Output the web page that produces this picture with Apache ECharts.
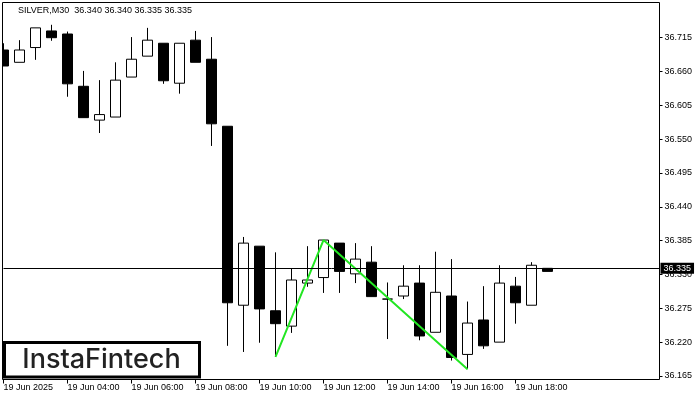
<!DOCTYPE html>
<html>
<head>
<meta charset="utf-8">
<script src="https://cdn.jsdelivr.net/npm/echarts@6/dist/echarts.min.js"></script>
<style>
html,body{margin:0;padding:0;background:#fff;}
#chart{width:700px;height:400px;}
</style>
</head>
<body>
<div id="chart"></div>
<script>
// 30-minute bars, 19 Jun 2025 (last 7 slots are empty space to the right)
var categories = ["02:00","02:30","03:00","03:30","04:00","04:30","05:00","05:30","06:00","06:30",
  "07:00","07:30","08:00","08:30","09:00","09:30","10:00","10:30","11:00","11:30",
  "12:00","12:30","13:00","13:30","14:00","14:30","15:00","15:30","16:00","16:30",
  "17:00","17:30","18:00","18:30","19:00","19:30","20:00","20:30","21:00","21:30",
  "22:00","22:30"];
var opens  = [36.695,36.675,36.699,36.726,36.721,36.636,36.581,36.586,36.651,36.685,
  36.706,36.641,36.711,36.680,36.571,36.280,36.376,36.271,36.246,36.316,
  36.325,36.381,36.331,36.350,36.290,36.295,36.316,36.236,36.295,36.200,
  36.256,36.220,36.311,36.280,36.340];
var highs  = [36.706,36.711,36.731,36.736,36.725,36.661,36.646,36.675,36.716,36.731,
  36.706,36.706,36.726,36.716,36.571,36.391,36.376,36.366,36.340,36.376,
  36.386,36.381,36.381,36.376,36.317,36.345,36.345,36.367,36.355,36.286,
  36.311,36.345,36.326,36.350,36.340];
var lows   = [36.669,36.675,36.679,36.710,36.619,36.585,36.560,36.586,36.651,36.685,
  36.640,36.624,36.675,36.539,36.214,36.204,36.219,36.196,36.235,36.310,
  36.300,36.300,36.316,36.294,36.225,36.290,36.223,36.236,36.190,36.176,
  36.209,36.220,36.250,36.280,36.335];
var closes = [36.669,36.695,36.731,36.715,36.640,36.585,36.590,36.646,36.680,36.711,
  36.645,36.706,36.675,36.575,36.284,36.381,36.274,36.250,36.321,36.321,
  36.386,36.335,36.355,36.294,36.290,36.311,36.230,36.301,36.195,36.251,
  36.214,36.316,36.284,36.345,36.335];
// double-bottom pattern line (low - high - low)
var patternTimes  = ["10:30","12:00","16:30"];
var patternValues = [36.196,36.386,36.176];
var currentPrice = 36.335;
var yTicks = [36.165,36.220,36.275,36.330,36.385,36.440,36.495,36.550,36.605,36.660,36.715];
var symbolName = "SILVER,M30";
var dateLabel = "19 Jun 2025";
var dayPrefix = "19 Jun ";

var candleData = opens.map(function(o, i){ return [o, closes[i], lows[i], highs[i]]; });
var patternData = patternTimes.map(function(t, i){ return [t, patternValues[i]]; });
var last = opens.length - 1;
var titleText = symbolName + "  " + opens[last].toFixed(3) + " " + highs[last].toFixed(3) + " " +
  lows[last].toFixed(3) + " " + closes[last].toFixed(3);

var FONT = "Liberation Sans";
var chart = echarts.init(document.getElementById('chart'), null, {renderer: 'canvas'});
var labelShown = function(idx){ return idx % 4 === 0 && idx < opens.length; };
chart.setOption({
  animation: false,
  backgroundColor: '#fff',
  title: {
    text: titleText, left: 18, top: 6, padding: 0,
    textStyle: {fontSize: 9, fontFamily: FONT, fontWeight: 'normal', color: '#000'}
  },
  grid: {left: 3.5, right: 40.5, top: 2.5, bottom: 20.5, outerBoundsMode: 'none', containLabel: false},
  xAxis: {
    type: 'category', data: categories, boundaryGap: false,
    axisLine: {show: false},
    axisTick: {show: true, interval: function(idx){ return labelShown(idx); }, length: 4, lineStyle: {color: '#000'}},
    axisLabel: {
      interval: function(idx){ return labelShown(idx); },
      formatter: function(v, idx){ return idx === 0 ? dateLabel : dayPrefix + v; },
      align: 'left', margin: 4, fontSize: 9, fontFamily: FONT, color: '#000', hideOverlap: false
    },
    splitLine: {show: false}
  },
  yAxis: {
    type: 'value', position: 'right', min: 36.15923, max: 36.77224, scale: true,
    axisLine: {show: false},
    axisTick: {show: true, customValues: yTicks, length: 3, lineStyle: {color: '#000'}},
    axisLabel: {customValues: yTicks, formatter: function(v){ return v.toFixed(3); },
      margin: 5, fontSize: 9, fontFamily: FONT, color: '#000', hideOverlap: false},
    splitLine: {show: false}
  },
  series: [
    {
      type: 'candlestick', data: candleData, barWidth: 10, clip: false,
      itemStyle: {color: '#fff', color0: '#000', borderColor: '#000', borderColor0: '#000', borderWidth: 1},
      markLine: {
        silent: true, symbol: ['none', 'none'], animation: false,
        lineStyle: {color: '#000', width: 1, type: 'solid'},
        label: {show: true, position: 'end', distance: 1, formatter: currentPrice.toFixed(3),
          backgroundColor: '#000', color: '#fff', padding: [1, 3, 1, 3], fontSize: 9, fontFamily: FONT},
        data: [{yAxis: currentPrice}]
      },
      z: 3
    },
    {
      type: 'line', data: patternData, symbol: 'none', connectNulls: true,
      lineStyle: {color: '#22e622', width: 2}, z: 4
    }
  ],
  graphic: [
    {type: 'rect', shape: {x: 0, y: 0, width: 2, height: 400}, style: {fill: '#fff'}, z: 90, silent: true},
    {type: 'rect', shape: {x: 2.5, y: 2.5, width: 657, height: 377}, style: {fill: null, stroke: '#000', lineWidth: 1}, z: 91, silent: true},
    {type: 'rect', shape: {x: 4.5, y: 342.5, width: 195, height: 34.5}, style: {fill: '#fff', stroke: '#000', lineWidth: 3}, z: 95, silent: true},
    {type: 'text', x: 101.5, y: 360, style: {text: 'InstaFintech', fill: '#222', font: '500 27px Inter', textAlign: 'center', textVerticalAlign: 'middle'}, z: 96, silent: true}
  ]
});
</script>
</body>
</html>
